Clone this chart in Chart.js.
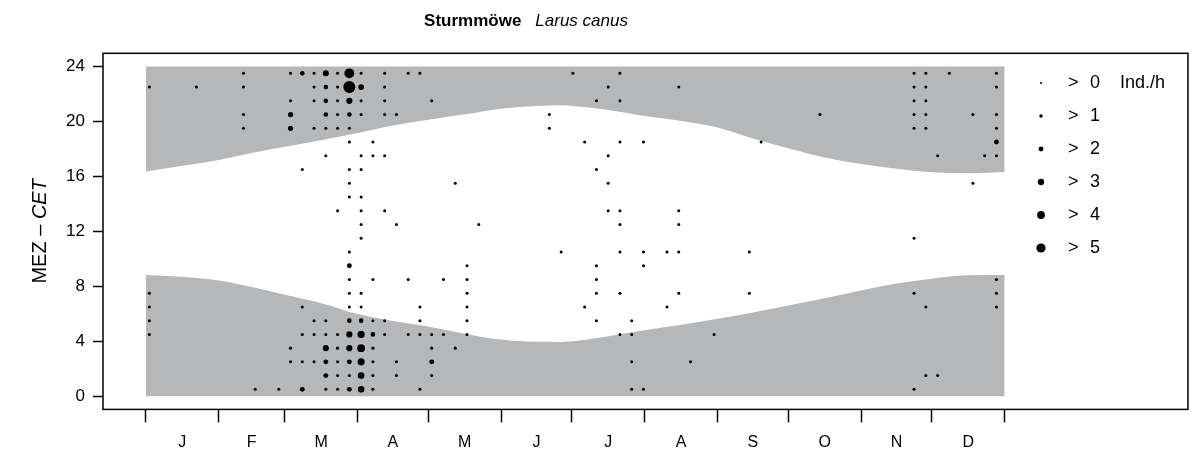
<!DOCTYPE html>
<html>
<head>
<meta charset="utf-8">
<script src="https://cdn.jsdelivr.net/npm/chart.js@4.4.1/dist/chart.umd.min.js"></script>
<style>
  html, body { margin: 0; padding: 0; background: #fff; }
  #wrap { width: 1194px; height: 460px; }
</style>
</head>
<body>
<div id="wrap"><canvas id="chart" width="1194" height="460"></canvas></div>
<script>
// Sturmmöwe – Tageszeit der Beobachtungen je Pentade
const MONTHS = ['J', 'F', 'M', 'A', 'M', 'J', 'J', 'A', 'S', 'O', 'N', 'D'];
const MONTH_START = [0, 31, 59, 90, 120, 151, 181, 212, 243, 273, 304, 334, 365];
const HOUR_TICKS = [0, 4, 8, 12, 16, 20, 24];
const LEGEND_RATES = [0, 1, 2, 3, 4, 5];

const CURVE_DAY = [0, 15, 31, 45, 59, 75, 90, 105, 120, 135, 151, 166, 176, 186, 196, 212, 227, 243, 258, 273, 288, 304, 319, 334, 349, 365];
const DUSK = [16.36, 16.75, 17.2, 17.7, 18.15, 18.65, 19.15, 19.7, 20.12, 20.5, 20.93, 21.13, 21.18, 21.05, 20.85, 20.4, 20.05, 19.55, 18.75, 18.05, 17.4, 16.9, 16.55, 16.3, 16.22, 16.32];
const DAWN = [8.83, 8.7, 8.42, 7.95, 7.38, 6.75, 5.98, 5.48, 5.07, 4.57, 4.12, 3.96, 3.95, 4.1, 4.35, 4.8, 5.18, 5.64, 6.1, 6.6, 7.12, 7.7, 8.2, 8.55, 8.8, 8.83];

// Beobachtungen: Pentade (0..72), volle Stunde, Ind./h
const COL_PENTAD = [0, 4, 8, 9, 11, 12, 13, 14, 15, 16, 17, 18, 19, 20, 21, 22, 23, 24, 25, 26, 27, 28, 34, 35, 36, 37, 38, 39, 40, 41, 42, 44, 45, 46, 48, 51, 52, 57, 65, 66, 67, 68, 70, 71, 72];
const COL_HOURS = [
  [22, 7, 6, 5, 4], [22], [23, 22, 20, 19], [0], [0],
  [23, 21, 20, 19, 3, 2],
  [23, 16, 6, 4, 2, 0],
  [23, 22, 21, 19, 5, 4, 2],
  [23, 22, 21, 20, 19, 17, 5, 4, 3, 2, 1, 0],
  [23, 22, 21, 20, 19, 13, 4, 3, 2, 1, 0],
  [23, 22, 21, 20, 19, 18, 16, 15, 14, 10, 9, 8, 7, 6, 5, 4, 3, 2, 1, 0],
  [23, 22, 21, 20, 17, 16, 14, 13, 12, 11, 7, 6, 5, 4, 3, 2, 1, 0],
  [18, 17, 8, 5, 4, 3, 2, 1, 0],
  [23, 22, 21, 20, 17, 13, 5, 4],
  [20, 12, 2, 1], [23, 8, 4], [23, 6, 5, 4, 0], [21, 4, 3, 2, 1], [8, 4], [15, 3],
  [9, 8, 7, 6, 5, 4], [12], [20, 19], [10], [23], [18, 6],
  [21, 16, 9, 8, 7, 5], [22, 17, 15, 13], [23, 21, 18, 13, 12, 10, 7, 4],
  [5, 4, 2, 0], [18, 10, 9, 0], [10, 6], [22, 13, 12, 10, 7], [2], [4], [10, 7], [18], [20],
  [23, 22, 21, 20, 19, 11, 7, 0], [23, 22, 21, 20, 19, 6, 1], [17, 1], [23], [20, 15], [17],
  [23, 22, 20, 19, 18, 17, 8, 7, 6]
];
const COL_RATES = [
  [.7, .7, .7, .7, .7], [.7], [.7, .7, .7, .7], [.7], [.7],
  [.7, .7, 2.2, 2.2, .7, .7],
  [1.8, .7, .7, .7, .7, 2],
  [.7, .7, .7, .7, .7, .7, .7],
  [2.8, 1.8, 1.8, 1.8, .7, .7, .7, .7, 2.8, 2, 2, .7],
  [.7, .7, .7, .7, .7, .7, .7, .7, .7, .7, .7],
  [5.5, 7, 2.9, 1.8, .7, .7, .7, .7, .7, .7, 2, .7, .7, .7, 1.8, 2.9, 2.9, 2, .7, 2],
  [.7, 2.6, .7, .7, .7, .7, .7, .7, .7, .7, .7, .7, 1.8, 3.6, 4, 3.6, 3.2, 3.2],
  [.7, .7, .7, .7, 1.8, .7, .7, .7, .7],
  [.7, .7, .7, .7, .7, .7, .7, .7],
  [.7, .7, .7, .7], [.7, .7, .7], [.7, .7, .7, .7, .7], [.7, .7, .7, 2, .7], [.7, .7], [.7, .7],
  [.7, .7, .7, .7, .7, .7], [.7], [.7, .7], [.7], [.7], [.7, .7],
  [.7, .7, .7, .7, .7, .7], [.7, .7, .7, .7], [.7, .7, .7, .7, .7, .7, .7, .7],
  [.7, .7, .7, .7], [.7, .7, .7, .7], [.7, .7], [.7, .7, .7, .7, .7], [.7], [.7], [.7, .7], [.7], [.7],
  [.7, .7, .7, .7, .7, .7, .7, .7], [.7, .7, .7, .7, .7, .7, .7], [.7, .7], [.7], [.7, .7], [.7],
  [.7, .7, .7, .7, 2, .7, .7, .7, .7]
];

(() => {
  'use strict';

  const FONT = '"Liberation Sans", Arial, Helvetica, sans-serif';
  const GREY = '#b6b7b9';
  const dotRadius = v => 1 + 0.72 * v;

  const dots = [];
  COL_PENTAD.forEach((k, i) => {
    COL_HOURS[i].forEach((h, j) => {
      dots.push({ x: 5 * k + 1.5, y: h + 0.5, r: dotRadius(COL_RATES[i][j]) });
    });
  });

  const monthMid = {};
  MONTHS.forEach((m, i) => { monthMid[(MONTH_START[i] + MONTH_START[i + 1]) / 2] = m; });
  const xTickValues = MONTH_START.concat(Object.keys(monthMid).map(Number)).sort((a, b) => a - b);

  // Rahmen, Titel, Achsentitel, Legende
  const decor = {
    id: 'decor',
    afterDraw(chart) {
      const { ctx, chartArea: a } = chart;
      ctx.save();
      ctx.strokeStyle = '#000';
      ctx.lineWidth = 1.5;
      ctx.strokeRect(a.left, a.top, a.right - a.left, a.bottom - a.top);

      ctx.fillStyle = '#000';
      ctx.textBaseline = 'middle';
      // Titel
      const t1 = 'Sturmmöwe', t2 = 'Larus canus', gap = 14;
      ctx.font = 'bold 17px ' + FONT;
      const w1 = ctx.measureText(t1).width;
      ctx.font = 'italic 17px ' + FONT;
      const w2 = ctx.measureText(t2).width;
      const tx = 526 - (w1 + gap + w2) / 2;
      ctx.textAlign = 'left';
      ctx.font = 'bold 17px ' + FONT;
      ctx.fillText(t1, tx, 21);
      ctx.font = 'italic 17px ' + FONT;
      ctx.fillText(t2, tx + w1 + gap, 21);

      // y-Achsentitel
      const ys = chart.scales.y;
      ctx.save();
      ctx.translate(40, ys.getPixelForValue(12));
      ctx.rotate(-Math.PI / 2);
      ctx.font = '20px ' + FONT;
      const s1 = 'MEZ – ';
      const ws1 = ctx.measureText(s1).width;
      ctx.font = 'italic 20px ' + FONT;
      const ws2 = ctx.measureText('CET').width;
      const sx = -(ws1 + ws2) / 2;
      ctx.font = '20px ' + FONT;
      ctx.fillText(s1, sx, 0);
      ctx.font = 'italic 20px ' + FONT;
      ctx.fillText('CET', sx + ws1, 0);
      ctx.restore();

      // Legende
      ctx.font = '18px ' + FONT;
      LEGEND_RATES.forEach((v, i) => {
        const y = 83 + i * 33;
        ctx.beginPath();
        ctx.arc(1041, y, dotRadius(v), 0, Math.PI * 2);
        ctx.fill();
        ctx.fillText('>', 1068, y);
        ctx.fillText(String(v), 1090, y);
        if (i === 0) ctx.fillText('Ind./h', 1120, y);
      });
      ctx.restore();
    }
  };

  Chart.defaults.font.family = FONT;
  Chart.defaults.color = '#000';

  new Chart(document.getElementById('chart'), {
    type: 'scatter',
    data: {
      datasets: [
        {
          label: 'Ind./h',
          data: dots,
          pointRadius: dots.map(d => d.r),
          pointHoverRadius: dots.map(d => d.r),
          pointBackgroundColor: '#000',
          pointBorderWidth: 0,
          order: 0
        },
        {
          label: 'Nacht abends',
          data: CURVE_DAY.map((d, i) => ({ x: d, y: DUSK[i] })),
          showLine: true,
          fill: { value: 24 },
          backgroundColor: GREY,
          borderColor: 'rgba(0,0,0,0)',
          borderWidth: 0,
          pointRadius: 0,
          cubicInterpolationMode: 'monotone',
          order: 2
        },
        {
          label: 'Nacht morgens',
          data: CURVE_DAY.map((d, i) => ({ x: d, y: DAWN[i] })),
          showLine: true,
          fill: { value: 0 },
          backgroundColor: GREY,
          borderColor: 'rgba(0,0,0,0)',
          borderWidth: 0,
          pointRadius: 0,
          cubicInterpolationMode: 'monotone',
          order: 2
        }
      ]
    },
    options: {
      responsive: false,
      animation: false,
      devicePixelRatio: 1,
      layout: { padding: { top: 53.3, right: 3, left: 0, bottom: 0 } },
      plugins: { legend: { display: false }, tooltip: { enabled: false } },
      scales: {
        x: {
          type: 'linear',
          min: -18.2,
          max: 442.9,
          afterBuildTicks: s => { s.ticks = xTickValues.map(v => ({ value: v })); },
          afterFit: s => { s.height = 460 - 409.4; },
          ticks: {
            autoSkip: false,
            maxRotation: 0,
            padding: 11,
            font: { size: 16 },
            callback: v => monthMid[v] || ''
          },
          grid: {
            drawOnChartArea: false,
            drawTicks: true,
            tickLength: 13,
            tickWidth: 1.5,
            tickColor: c => (c.tick && MONTH_START.includes(c.tick.value)) ? '#000' : 'rgba(0,0,0,0)'
          },
          border: { display: false }
        },
        y: {
          type: 'linear',
          min: -0.96,
          max: 24.96,
          afterBuildTicks: s => { s.ticks = HOUR_TICKS.map(v => ({ value: v })); },
          afterFit: s => { s.width = 103; },
          ticks: { padding: 8, font: { size: 17 } },
          grid: {
            drawOnChartArea: false,
            drawTicks: true,
            tickLength: 10,
            tickWidth: 1.5,
            tickColor: '#000'
          },
          border: { display: false }
        }
      }
    },
    plugins: [decor]
  });
})();
</script>
</body>
</html>
